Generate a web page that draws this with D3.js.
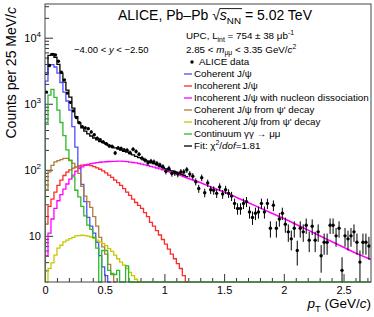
<!DOCTYPE html>
<html>
<head>
<meta charset="utf-8">
<script src="https://cdn.jsdelivr.net/npm/d3@7"></script>
<style>
  body { margin: 0; background: #fff; }
  text { font-family: "Liberation Sans", Arial, sans-serif; fill: #000; }
</style>
</head>
<body>
<div id="chart"></div>
<script>
const binWidth = 0.025

// ALICE data, counts per 25 MeV/c bin starting at pT = 0
const dataCounts = [
  1500, 3800, 5600, 5500, 4400, 3000, 2300, 1450, 1050, 780,
  620, 515, 450, 430, 420, 375, 340, 300, 285, 265,
  248, 230, 225, 180, 215, 210, 200, 198, 182, 205,
  190, 172, 150, 140, 128, 135, 132, 125, 118, 111,
  95, 105, 88, 90, 86, 93, 93, 100, 86, 80,
  66, 52, 76, 45, 63, 50, 49, 44, 55, 43,
  50, 44, 40, 31, 26, 26, 31, 33, 23, 19,
  22, 23, 31, 23, 31, 13, 29, 13, 18, 22,
  15, 11.5, 9, 13, 6, 13, 11.5, 14.5, 8.6, 14,
  8.6, 11.5, 5, 8, 8, 14.5, 14.5, 10, 13, 3,
  10, 9, 10, 11.5, 8, 4, 8, 8, 7
]

// total fit
const fitTotal = [
  2790, 5385, 5725, 5060, 3940, 2880, 2120, 1610, 1260, 860,
  640, 515, 430, 385, 350, 325, 303, 284, 268, 258,
  248, 234, 224, 215, 207, 199, 191, 185, 176, 168,
  160, 153, 148, 141, 135, 129, 124, 118.5, 113, 108,
  103.5, 100, 96, 93, 90, 86, 82.5, 79
]

const coherent = [2200, 3900, 3900, 3600, 2900, 2100, 1500, 1100, 800, 450, 220, 110, 60, 33, 19, 14, 11, 8, 5, 3.4, 2.5, 1.8]

const incoherent = [
  15, 28, 36, 46, 58, 70, 82, 92, 100, 106,
  111, 115, 118, 119, 118, 116, 112, 107, 102, 96,
  90, 83, 77, 70, 64, 58, 52, 46, 41, 36,
  32, 29, 26, 22.5, 19.5, 16, 14, 12, 10.3, 8.8,
  7.5, 6.3, 5.3, 4.5, 3.8, 3.2, 2.5, 1.8
]

// nucleon dissociation: binned below 1 GeV/c, smooth curve above
const nucleonDiss = [
  5, 11, 18, 26, 34, 42, 51, 61, 72, 83,
  95, 104, 111, 117, 121, 124, 126.5, 128.5, 130, 131.5,
  132.5, 133.5, 134, 134.5, 135, 135, 134, 133, 131, 129,
  127, 124.5, 122, 119, 116, 113, 110, 106.5, 103, 99.5
]
const nucleonDissTailPt = [1.0, 1.1, 1.2, 1.3, 1.4, 1.5, 1.6, 1.7, 1.8, 1.9, 2.0, 2.1, 2.2, 2.3, 2.4, 2.5, 2.6, 2.73]
const nucleonDissTail = [98, 87, 74, 64, 54, 46, 38.5, 32, 26.5, 22, 18.3, 15, 12.3, 10, 8.2, 6.7, 5.5, 4.4]

const coherentPsi2s = [50, 93, 117, 132, 138, 143, 149, 149, 138, 125, 111, 88, 56, 40, 33, 27, 19.5, 14, 9.5, 6.8, 5.3, 3.7, 2.6, 1.5]

const incoherentPsi2s = [
  0, 3.2, 3.9, 5.1, 6.5, 7.2, 8.1, 8.6, 9.1, 9.5,
  10, 10.1, 10.2, 10.1, 9.9, 9.6, 9.2, 8.6, 8.1, 7.6,
  7.1, 6.4, 5.8, 5.1, 4.5, 4.0, 3.6, 3.2, 2.8, 2.5,
  2.2, 1.5
]

const continuum = [520, 1350, 1650, 1250, 800, 520, 330, 200, 140, 78, 49, 39, 28, 20, 14.5, 12.5, 9.5, 6.5, 1, 6, 6, 3, 2.7, 2.6, 3, 1, 1, 3.5, 1]

const xTicks = [0, 0.5, 1, 1.5, 2, 2.5]
const xTickLabels = ['0', '0.5', '1', '1.5', '2', '2.5']
const yTicks = [10, 100, 1000, 10000]
const yTickExp = ['', '2', '3', '4']

const legendLabels = [
  [['ALICE data', '']],
  [['Coherent J/ψ', '']],
  [['Incoherent J/ψ', '']],
  [['Incoherent J/ψ with nucleon dissociation', '']],
  [["Coherent J/ψ from ψ' decay", '']],
  [["Incoherent J/ψ from ψ' decay", '']],
  [['Continuum γγ → μμ', '']],
  [['Fit: χ', ''], ['2', 'sup'], ['/', ''], ['dof', 'i'], ['=1.81', '']]
]
const legendColors = ['#000', '#4d4dff', '#ff2a2a', '#ff00ff', '#b07c38', '#c8c800', '#2db82d', '#000']

const width = 374
const height = 317
const margin = { top: 4, right: 3, bottom: 35, left: 45 }

const svg = d3.select('#chart')
  .append('svg')
    .attr('width', width)
    .attr('height', height)

const x = d3.scaleLinear()
  .domain([0, 2.73])
  .range([margin.left, width - margin.right])
const y = d3.scaleLog()
  .domain([2, 32400])
  .range([height - margin.bottom, margin.top])

const yMin = y.domain()[0]
const yc = v => v > yMin ? y(v) : y(yMin)

function histPoints(vals, open) {
  const pts = open ? [] : [[x(0), y(yMin)]]
  vals.forEach((v, i) => {
    pts.push([x(i * binWidth), yc(v)], [x((i + 1) * binWidth), yc(v)])
  })
  if (!open) pts.push([x(vals.length * binWidth), y(yMin)])
  return pts
}

// tspans with italic / sub / sup parts
function rich(sel, parts, size) {
  let off = 0
  parts.forEach(([t, s]) => {
    const target = s === 'sub' ? size * 0.3 : s === 'sup' ? -size * 0.4 : 0
    const ts = sel.append('tspan').text(t).attr('dy', target - off)
    off = target
    if (s === 'i') ts.style('font-style', 'italic')
    if (s === 'sub' || s === 'sup') ts.attr('font-size', size * 0.7)
  })
}

svg.append('clipPath').attr('id', 'plot')
  .append('rect')
    .attr('x', margin.left)
    .attr('y', margin.top)
    .attr('width', width - margin.left - margin.right)
    .attr('height', height - margin.top - margin.bottom + 1)

// axes
const xMinor = d3.range(1, 28).map(d => d / 10).filter(d => d % 0.5 > 0.01 && d % 0.5 < 0.49)
const yMinor = []
for (let e = 0; e <= 4; e++) {
  for (let k = 2; k <= 9; k++) {
    const v = k * Math.pow(10, e)
    if (v > yMin && v < y.domain()[1]) yMinor.push(v)
  }
}

const gx = svg.append('g')
  .attr('transform', `translate(0, ${height - margin.bottom})`)
gx.append('g')
  .call(d3.axisBottom(x).tickValues(xMinor).tickSize(-4).tickFormat(''))
gx.append('g')
  .call(d3.axisBottom(x).tickValues(xTicks).tickSize(-8).tickPadding(4)
    .tickFormat((d, i) => xTickLabels[i]))
gx.selectAll('.domain').remove()
gx.selectAll('line').attr('stroke', '#333')
gx.selectAll('text').attr('font-size', 11).attr('font-family', '"Liberation Sans", Arial, sans-serif')

const gy = svg.append('g')
  .attr('transform', `translate(${margin.left}, 0)`)
gy.append('g')
  .call(d3.axisLeft(y).tickValues(yMinor).tickSize(-4).tickFormat(''))
gy.append('g')
  .call(d3.axisLeft(y).tickValues(yTicks).tickSize(-8).tickFormat(''))
gy.selectAll('.domain').remove()
gy.selectAll('line').attr('stroke', '#333')

yTicks.forEach((v, i) => {
  const t = svg.append('text')
    .attr('x', margin.left - 4)
    .attr('y', y(v))
    .attr('text-anchor', 'end')
    .attr('font-size', 11)
  t.append('tspan').text('10').attr('dy', '0.36em')
  if (yTickExp[i]) t.append('tspan').text(yTickExp[i]).attr('font-size', 8).attr('dy', -5)
})

// curves
const plot = svg.append('g').attr('clip-path', 'url(#plot)')
const line = d3.line()

function drawHist(vals, color, open, extend) {
  const pts = histPoints(vals, open)
  if (extend) pts.push([x.range()[1], y(yMin)])
  plot.append('path')
    .attr('d', line(pts))
    .attr('fill', 'none')
    .attr('stroke', color)
    .attr('stroke-width', 1.3)
}

drawHist(fitTotal, legendColors[7], true)
drawHist(coherent, legendColors[1])
drawHist(incoherent, legendColors[2])
drawHist(nucleonDiss, legendColors[3], true)
plot.append('path')
  .attr('d', d3.line().curve(d3.curveMonotoneX)
    .x((d, i) => x(d))
    .y((d, i) => y(nucleonDissTail[i]))(nucleonDissTailPt))
  .attr('fill', 'none')
  .attr('stroke', legendColors[3])
  .attr('stroke-width', 1.6)
drawHist(coherentPsi2s, legendColors[4])
drawHist(incoherentPsi2s, legendColors[5])
drawHist(continuum, legendColors[6], false, true)

// data points, Poisson errors
const pts = plot.append('g')
dataCounts.forEach((v, i) => {
  const cx = x((i + 0.5) * binWidth)
  const err = Math.sqrt(v)
  pts.append('line')
    .attr('x1', cx).attr('x2', cx)
    .attr('y1', yc(v - err)).attr('y2', y(v + err))
    .attr('stroke', '#000').attr('stroke-width', 1)
  pts.append('circle')
    .attr('cx', cx).attr('cy', y(v)).attr('r', 1.7)
    .attr('fill', '#000')
})

// frame
svg.append('rect')
  .attr('x', margin.left)
  .attr('y', margin.top)
  .attr('width', width - margin.left - margin.right)
  .attr('height', height - margin.top - margin.bottom)
  .attr('fill', 'none')
  .attr('stroke', '#444')
  .attr('stroke-width', 1)

// titles
const yTitle = svg.append('text')
  .attr('transform', 'translate(16, 7) rotate(-90)')
  .attr('text-anchor', 'end')
  .attr('font-size', 14)
rich(yTitle, [['Counts per 25 MeV/', ''], ['c', 'i']], 14)

const xTitle = svg.append('text')
  .attr('x', width - 3)
  .attr('y', 308)
  .attr('text-anchor', 'end')
  .attr('font-size', 13.5)
rich(xTitle, [['p', 'i'], ['T', 'sub'], [' (GeV/', ''], ['c', 'i'], [')', '']], 13.5)

const title = svg.append('text')
  .attr('x', 118)
  .attr('y', 20)
  .attr('font-size', 14)
rich(title, [['ALICE, Pb–Pb √', ''], ['s', 'i'], ['NN', 'sub'], [' = 5.02 TeV', '']], 14)
const tn = title.node()
const ovX0 = tn.getStartPositionOfChar(14).x
const ovX1 = tn.getEndPositionOfChar(16).x
svg.append('line')
  .attr('x1', ovX0 - 0.5).attr('x2', ovX1 + 1)
  .attr('y1', 8.6).attr('y2', 8.6)
  .attr('stroke', '#000').attr('stroke-width', 0.9)

const rap = svg.append('text')
  .attr('x', 74).attr('y', 53).attr('font-size', 9.5)
rich(rap, [['−4.00 < ', ''], ['y', 'i'], [' < −2.50', '']], 9.5)

const lumi = svg.append('text')
  .attr('x', 186).attr('y', 39).attr('font-size', 9.8)
rich(lumi, [['UPC, L', ''], ['int', 'sub'], [' = 754 ± 38 μb', ''], ['-1', 'sup']], 9.8)

const mass = svg.append('text')
  .attr('x', 186).attr('y', 52.5).attr('font-size', 9.8)
rich(mass, [['2.85 < ', ''], ['m', 'i'], ['μμ', 'sub'], [' < 3.35 GeV/', ''], ['c', 'i'], ['2', 'sup']], 9.8)

// legend
const legend = svg.append('g')
legendLabels.forEach((parts, i) => {
  const ly = 62 + i * 12
  if (i === 0) {
    legend.append('circle').attr('cx', 192).attr('cy', ly).attr('r', 1.7).attr('fill', '#000')
  } else {
    legend.append('line')
      .attr('x1', 184).attr('x2', 192)
      .attr('y1', ly).attr('y2', ly)
      .attr('stroke', legendColors[i]).attr('stroke-width', 1.3)
  }
  const t = legend.append('text')
    .attr('x', i === 0 ? 199 : 194)
    .attr('y', ly + 3.4)
    .attr('font-size', 9.8)
  rich(t, parts, 9.8)
})
</script>
</body>
</html>
